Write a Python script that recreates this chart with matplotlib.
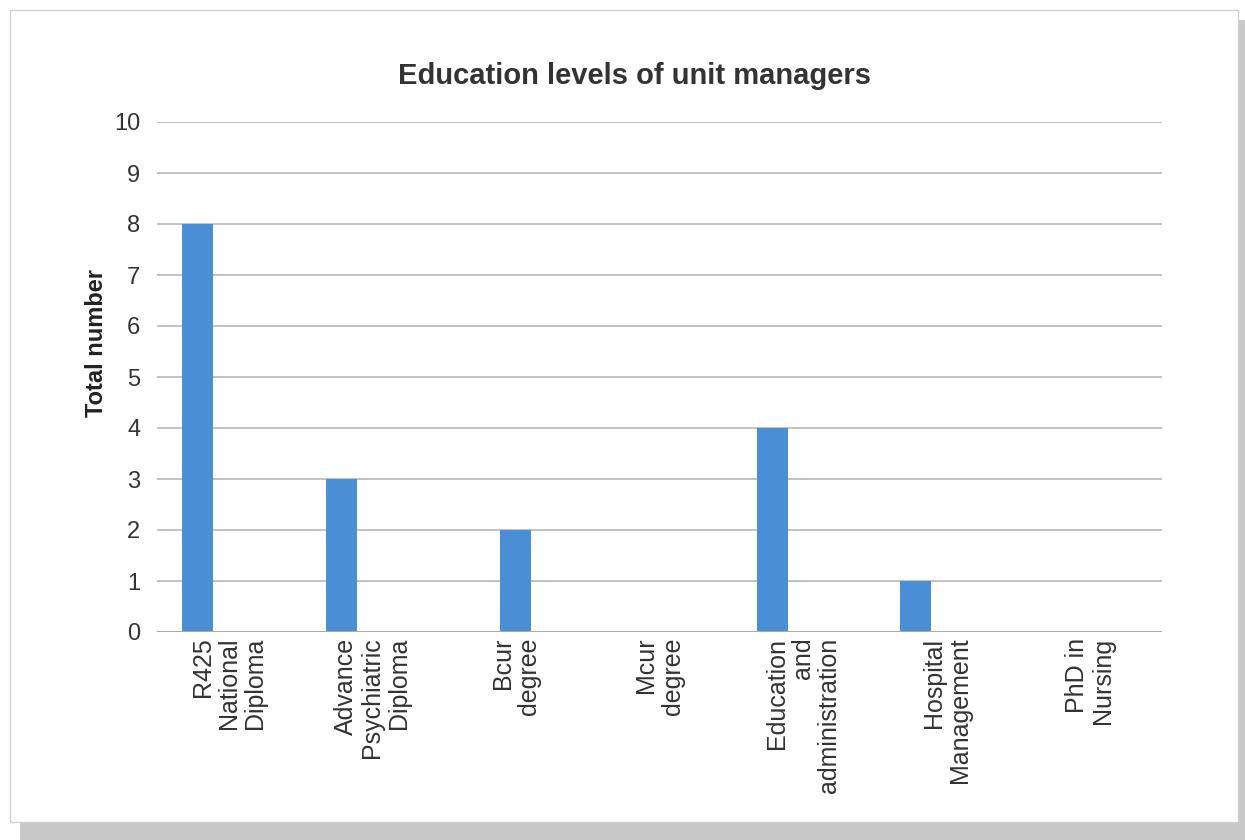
import matplotlib
matplotlib.use('Agg')
import matplotlib.pyplot as plt
from matplotlib.patches import Rectangle
import numpy as np

# categories and values (Excel chart had several series; only a few are non-zero)
categories = ['R425\nNational\nDiploma', 'Advance\nPsychiatric\nDiploma', 'Bcur\ndegree',
              'Mcur\ndegree', 'Education\nand\nadministration', 'Hospital\nManagement',
              'PhD in\nNursing']
series_1 = [8, 3, 0, 0, 4, 1, 0]
series_2 = [0, 0, 2, 0, 0, 0, 0]
series_3 = [0, 0, 0, 0, 0, 0, 0]
y_ticks = [0, 1, 2, 3, 4, 5, 6, 7, 8, 9, 10]

plt.rcParams['font.family'] = ['Liberation Sans', 'DejaVu Sans']

fig = plt.figure(figsize=(12.45, 8.4), dpi=100)
fig.patch.set_facecolor('white')

# panel with shadow like the original screenshot
fig.patches.append(Rectangle((20 / 1245, 0.5 / 840), 1225 / 1245, 820 / 840,
                             transform=fig.transFigure, facecolor='#c8c8c8',
                             edgecolor='none', zorder=0))
fig.patches.append(Rectangle((10 / 1245, 18 / 840), 1228 / 1245, 812 / 840,
                             transform=fig.transFigure, facecolor='white',
                             edgecolor='#d0d0d0', linewidth=1, zorder=1))

ax = fig.add_axes([157 / 1245, 1 - 632 / 840, 1005 / 1245, 510 / 840])
ax.set_facecolor('none')
ax.set_zorder(2)

x = np.arange(len(categories))
w = 0.215
blue = '#4a8ed5'
ax.bar(x - w, series_1, width=w, color=blue, zorder=3)
ax.bar(x, series_2, width=w, color=blue, zorder=3)
ax.bar(x + w, series_3, width=w, color=blue, zorder=3)

ax.set_xlim(-0.5, len(categories) - 0.5)
ax.set_ylim(0, 10)
ax.set_yticks(y_ticks)
ax.yaxis.grid(True, color='#bdbdbd', linewidth=1.3, zorder=0)
ax.axhline(0, color='#aaaaaa', linewidth=1.5, zorder=4)

ax.set_xticks(x)
ax.set_xticklabels(categories, rotation=90, ha='center', va='top',
                   multialignment='right', fontsize=18, color='#333333',
                   linespacing=1.12)
ax.tick_params(axis='both', length=0, colors='#333333')
ax.tick_params(axis='y', pad=12, labelsize=17)
ax.tick_params(axis='x', pad=4)

for s in ax.spines.values():
    s.set_visible(False)

ax.set_ylabel('Total number', fontsize=17, fontweight='bold', color='#222222')
ax.yaxis.set_label_coords(-0.049, 0.567)
fig.text(635 / 1245, 1 - 76 / 840, 'Education levels of unit managers', ha='center',
         va='center', fontsize=21, fontweight='bold', color='#333333', zorder=5)

fig.savefig('out.png', dpi=100)
